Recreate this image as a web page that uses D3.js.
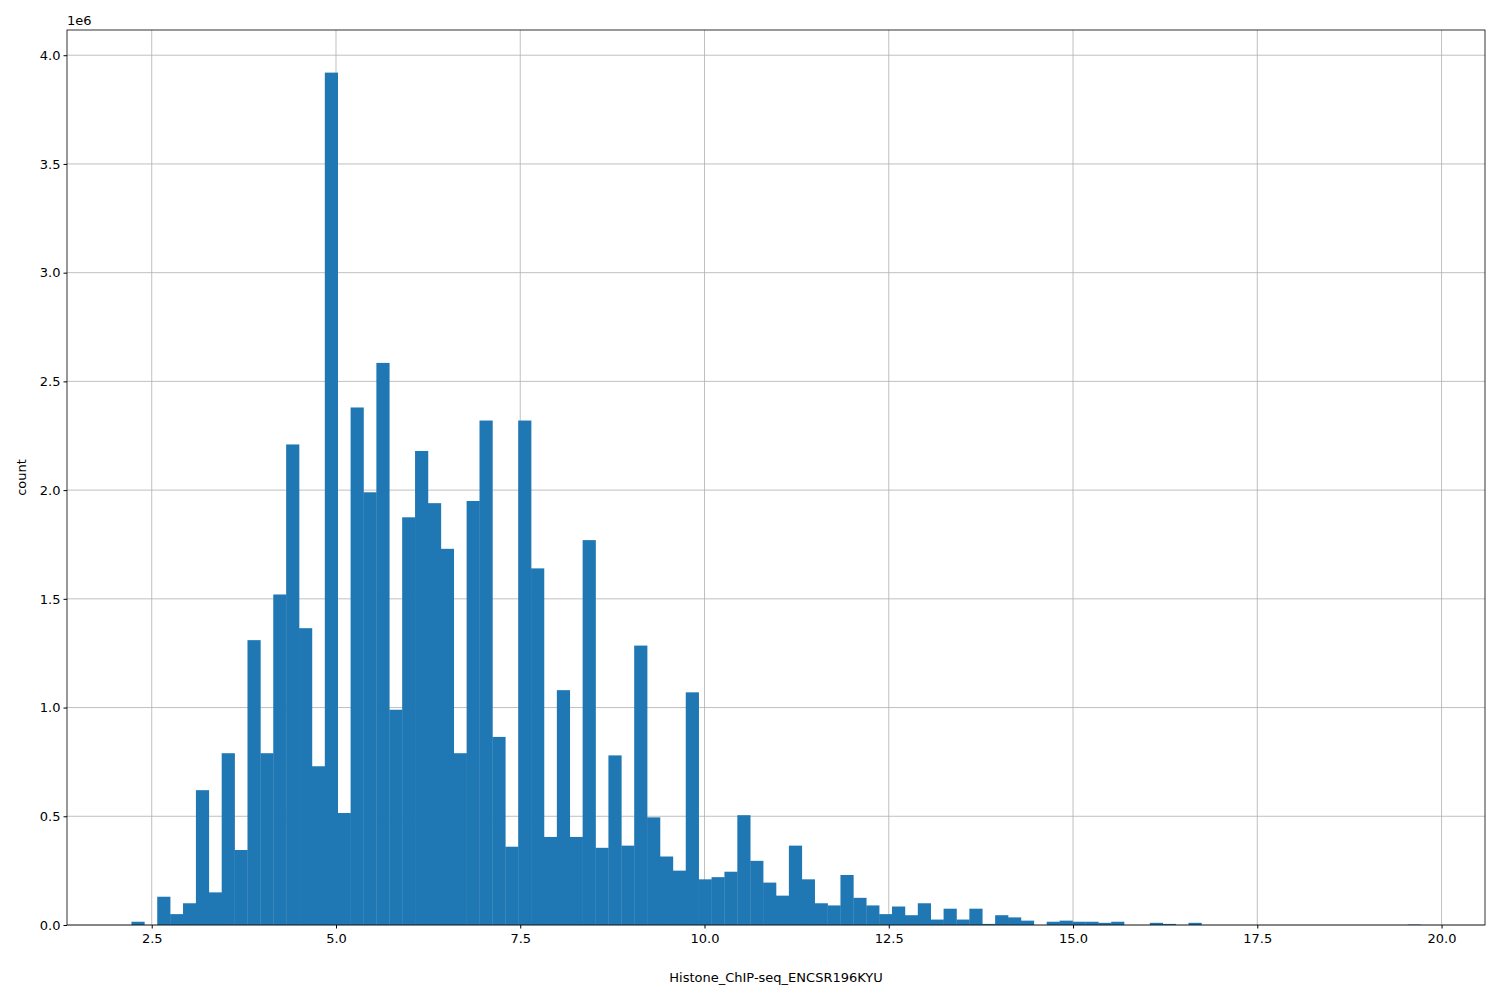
<!DOCTYPE html>
<html><head><meta charset="utf-8">
<script src="https://cdn.jsdelivr.net/npm/d3@7"></script>
<style>body{margin:0;background:#fff}text{font-family:"DejaVu Sans",sans-serif}</style>
</head><body><svg width="1500" height="1000"></svg>
<script>
// histogram: 100 bins from binStart to binEnd, counts in millions
let binStart = 2.225, binEnd = 19.715;
let counts = [
  0.015, 0, 0.13, 0.05, 0.10, 0.62, 0.15, 0.79, 0.345, 1.31,
  0.79, 1.52, 2.21, 1.365, 0.73, 3.92, 0.515, 2.38, 1.99, 2.585,
  0.99, 1.875, 2.18, 1.94, 1.73, 0.79, 1.95, 2.32, 0.865, 0.36,
  2.32, 1.64, 0.405, 1.08, 0.405, 1.77, 0.355, 0.78, 0.365, 1.285,
  0.495, 0.315, 0.25, 1.07, 0.21, 0.22, 0.245, 0.505, 0.295, 0.195,
  0.135, 0.365, 0.21, 0.10, 0.09, 0.23, 0.125, 0.09, 0.05, 0.085,
  0.045, 0.10, 0.025, 0.075, 0.025, 0.075, 0.005, 0.045, 0.035, 0.02,
  0, 0.015, 0.02, 0.015, 0.015, 0.01, 0.015, 0, 0, 0.01,
  0.005, 0, 0.01, 0, 0, 0, 0, 0, 0, 0,
  0, 0, 0, 0, 0, 0, 0, 0, 0, 0.002
];
let xTicks = [2.5, 5.0, 7.5, 10.0, 12.5, 15.0, 17.5, 20.0];
let yTicks = [0, 0.5, 1.0, 1.5, 2.0, 2.5, 3.0, 3.5, 4.0];

let svg = d3.select("svg"),
  mLeft = 67, mRight = 1485, mTop = 30, mBottom = 925;
let binW = (binEnd - binStart) / counts.length;
let pad = (binEnd - binStart) * 0.05;
let x = d3.scaleLinear().domain([binStart - pad, binEnd + pad]).range([mLeft, mRight]);
let y = d3.scaleLinear().domain([0, 3.92 * 1.05]).range([mBottom, mTop]);

let g = svg.append("g");
// grid
g.selectAll(".gx").data(xTicks).enter().append("line")
  .attr("x1", d => x(d)).attr("x2", d => x(d)).attr("y1", mTop).attr("y2", mBottom)
  .attr("stroke", "#b0b0b0").attr("stroke-width", 0.8);
g.selectAll(".gy").data(yTicks).enter().append("line")
  .attr("y1", d => y(d)).attr("y2", d => y(d)).attr("x1", mLeft).attr("x2", mRight)
  .attr("stroke", "#b0b0b0").attr("stroke-width", 0.8);

// bars
g.selectAll("rect").data(counts).enter().append("rect")
  .attr("x", (d, i) => x(binStart + i * binW))
  .attr("width", (d, i) => x(binStart + (i + 1) * binW) - x(binStart + i * binW) + 0.3)
  .attr("y", d => y(d))
  .attr("height", d => mBottom - y(d))
  .attr("fill", "#1f77b4");

let xa = svg.append("g").attr("transform", "translate(0," + mBottom + ")")
  .call(d3.axisBottom(x).tickValues(xTicks).tickFormat(d3.format(".1f")).tickSizeOuter(0).tickSize(3.5));
let ya = svg.append("g").attr("transform", "translate(" + mLeft + ",0)")
  .call(d3.axisLeft(y).tickValues(yTicks).tickFormat(d3.format(".1f")).tickSizeOuter(0).tickSize(3.5));
[xa, ya].forEach(a => {
  a.select(".domain").remove();
  a.selectAll("text").attr("font-size", 13).attr("fill", "#000").style("font-family", "DejaVu Sans");
});
xa.selectAll("text").attr("dy", "0.9em");

svg.append("rect").attr("x", mLeft).attr("y", mTop).attr("width", mRight - mLeft).attr("height", mBottom - mTop)
  .attr("fill", "none").attr("stroke", "#000").attr("stroke-width", 0.8);

svg.append("text").attr("x", mLeft).attr("y", mTop - 5).attr("font-size", 13).text("1e6");
svg.append("text").attr("x", (mLeft + mRight) / 2).attr("y", 982).attr("text-anchor", "middle")
  .attr("font-size", 13).text("Histone_ChIP-seq_ENCSR196KYU");
svg.append("text").attr("transform", "translate(26," + (mTop + mBottom) / 2 + ") rotate(-90)")
  .attr("text-anchor", "middle").attr("font-size", 13).text("count");
</script></body></html>
